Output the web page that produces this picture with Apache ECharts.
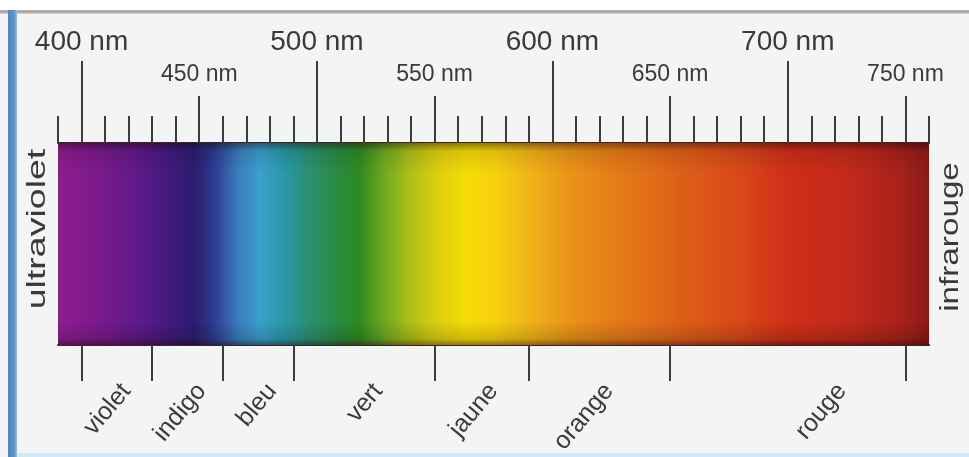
<!DOCTYPE html>
<html>
<head>
<meta charset="utf-8">
<script src="https://cdn.jsdelivr.net/npm/echarts@6/dist/echarts.min.js"></script>
<style>
html,body{margin:0;padding:0;background:#f3f4f4;}
#chart{width:969px;height:457px;}
</style>
</head>
<body>
<div id="chart"></div>
<script>
// ---- data ----
const rangeNm = [390, 760];
const minorTicks = [390, 400, 410, 420, 430, 440, 450, 460, 470, 480, 490, 500, 510, 520, 530, 540, 550, 560, 570, 580, 590, 600, 610, 620, 630, 640, 650, 660, 670, 680, 690, 700, 710, 720, 730, 740, 750, 760];
const majorTicks = [400, 500, 600, 700];
const midTicks = [450, 550, 650, 750];
const bandEdges = [400, 430, 460, 490, 550, 590, 650, 750];
const bandNames = ['violet', 'indigo', 'bleu', 'vert', 'jaune', 'orange', 'rouge'];
const bandLabelAt = [419, 451, 481, 526, 575, 624, 723];
const stopNm = [390, 408, 425, 440, 448, 456, 467, 476, 486, 497, 509, 518, 528, 539, 552, 564, 577, 590, 607, 628, 653, 680, 700, 725, 747, 760];
const stopColor = ['#8e1d8e', '#7a1a8c', '#5c1a88', '#3c1a7c', '#2c1d6e', '#2d3a90', '#3a80c0', '#3aa0cc', '#2a98a8', '#2a9070', '#2a8a40', '#2f8a20', '#6aa820', '#aabf18', '#e0d010', '#f5dc05', '#f5cf10', '#f0b418', '#ea9418', '#e57a18', '#de6118', '#d84818', '#cf2e18', '#c32a1a', '#a8221a', '#8c1a18'];
const sideLabels = ['ultraviolet', 'infrarouge'];

const chart = echarts.init(document.getElementById('chart'));
const span = rangeNm[1] - rangeNm[0];
const gradStops = stopNm.map((w, i) => ({ offset: (w - rangeNm[0]) / span, color: stopColor[i] }));
const bandLabelMap = {};
bandLabelAt.forEach((v, i) => { bandLabelMap[v] = bandNames[i]; });

const tickColor = '#3c3c3c';
const textColor = '#3a3a3a';
const font = '"Liberation Sans", Arial, sans-serif';

const baseAxis = { type: 'value', min: rangeNm[0], max: rangeNm[1], gridIndex: 0, splitLine: { show: false } };

const option = {
  backgroundColor: '#f3f4f4',
  animation: false,
  grid: { left: 58, right: 40, top: 143, bottom: 112 },
  xAxis: [
    Object.assign({}, baseAxis, {
      position: 'top',
      axisLine: { show: true, onZero: false, lineStyle: { color: '#3a2626', width: 2 } },
      axisTick: { show: true, length: 27, customValues: minorTicks, lineStyle: { color: tickColor, width: 2 } },
      axisLabel: { show: false }
    }),
    Object.assign({}, baseAxis, {
      position: 'top',
      axisLine: { show: false, onZero: false },
      axisTick: { show: true, length: 47, customValues: midTicks, lineStyle: { color: tickColor, width: 2 } },
      axisLabel: { show: true, customValues: midTicks, formatter: '{value} nm', margin: 57, fontSize: 23, fontFamily: font, color: textColor }
    }),
    Object.assign({}, baseAxis, {
      position: 'top',
      axisLine: { show: false, onZero: false },
      axisTick: { show: true, length: 82, customValues: majorTicks, lineStyle: { color: tickColor, width: 2 } },
      axisLabel: { show: true, customValues: majorTicks, formatter: '{value} nm', margin: 87, fontSize: 28, fontFamily: font, color: textColor }
    }),
    Object.assign({}, baseAxis, {
      position: 'bottom',
      axisLine: { show: true, onZero: false, lineStyle: { color: '#3a2626', width: 2 } },
      axisTick: { show: true, length: 36, customValues: bandEdges, lineStyle: { color: tickColor, width: 2 } },
      axisLabel: { show: true, customValues: bandLabelAt, rotate: 50, margin: 42, fontSize: 25, fontFamily: font, color: textColor,
        formatter: v => bandLabelMap[v] || '' }
    })
  ],
  yAxis: [{ type: 'value', min: 0, max: 1, show: false }],
  graphic: [
    { type: 'rect', shape: { x: 0, y: 0, width: 969, height: 10 }, style: { fill: '#ffffff' }, silent: true },
    { type: 'rect', shape: { x: 0, y: 10, width: 969, height: 4 },
      style: { fill: new echarts.graphic.LinearGradient(0, 0, 0, 1, [{ offset: 0, color: '#b8b8b8' }, { offset: 0.5, color: '#9c9c9c' }, { offset: 1, color: '#e0e0e0' }]) }, silent: true },
    { type: 'rect', shape: { x: 8, y: 10, width: 9, height: 447 },
      style: { fill: new echarts.graphic.LinearGradient(0, 0, 1, 0, [{ offset: 0, color: '#4f86bd' }, { offset: 0.7, color: '#5c94c8' }, { offset: 1, color: '#9cc2e0' }]) }, silent: true },
    { type: 'rect', shape: { x: 17, y: 453, width: 952, height: 4 }, style: { fill: '#d2e8f5' }, silent: true },
    { type: 'text', x: 38, y: 229, rotation: Math.PI / 2, scaleX: 1.5,
      style: { text: sideLabels[0], fontSize: 25, fontFamily: font, fill: textColor, align: 'center', verticalAlign: 'middle' } },
    { type: 'text', x: 951, y: 237, rotation: Math.PI / 2, scaleX: 1.33,
      style: { text: sideLabels[1], fontSize: 25, fontFamily: font, fill: textColor, align: 'center', verticalAlign: 'middle' } }
  ],
  series: [{
    type: 'custom',
    xAxisIndex: 0,
    yAxisIndex: 0,
    encode: { x: [0, 1] },
    data: [[rangeNm[0], rangeNm[1]]],
    z: 1,
    renderItem: function (params, api) {
      const p0 = api.coord([api.value(0), 1]);
      const p1 = api.coord([api.value(1), 0]);
      const shape = { x: p0[0], y: p0[1], width: p1[0] - p0[0], height: p1[1] - p0[1] };
      return {
        type: 'group',
        children: [
          { type: 'rect', shape: shape, style: { fill: new echarts.graphic.LinearGradient(0, 0, 1, 0, gradStops) } },
          { type: 'rect', shape: shape, style: { fill: new echarts.graphic.LinearGradient(0, 0, 0, 1, [
            { offset: 0, color: 'rgba(30,0,0,0.45)' },
            { offset: 0.04, color: 'rgba(0,0,0,0.10)' },
            { offset: 0.15, color: 'rgba(0,0,0,0)' },
            { offset: 0.88, color: 'rgba(0,0,0,0)' },
            { offset: 0.97, color: 'rgba(0,0,0,0.15)' },
            { offset: 1, color: 'rgba(30,0,0,0.45)' }
          ]) } }
        ]
      };
    }
  }]
};
chart.setOption(option);
</script>
</body>
</html>
